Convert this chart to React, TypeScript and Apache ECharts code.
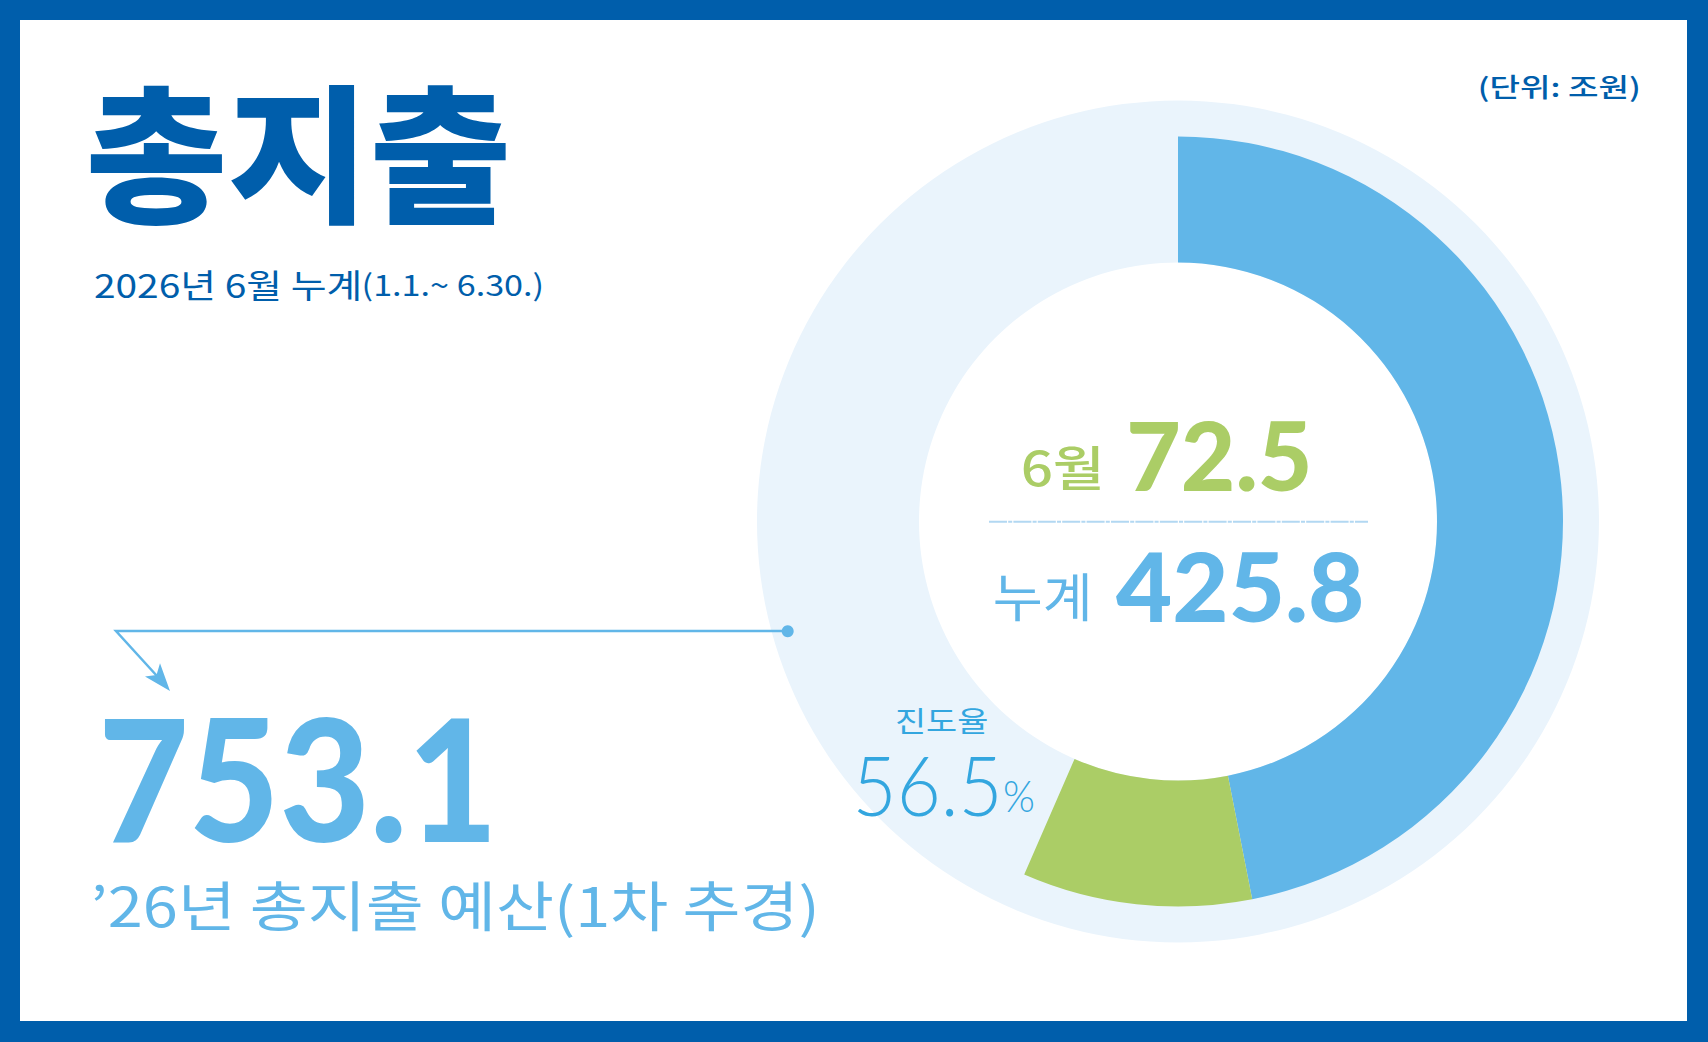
import React, { useEffect, useRef } from 'react';
import * as echarts from 'echarts';

// ---- data (조원) ----
const BUDGET = 753.1; // '26년 총지출 예산(1차 추경)
const CUMULATIVE = 425.8; // 누계 (1.1.~6.30.)
const JUNE = 72.5; // 6월
const PROGRESS_RATE = 56.5; // 진도율 (%)
const SEGMENT_NAMES = ['1~5월', '6월', '잔여'];
const SEGMENT_VALUES = [
  +(CUMULATIVE - JUNE).toFixed(1),
  JUNE,
  +(BUDGET - CUMULATIVE).toFixed(1),
];

// ---- texts ----
const TITLE = '총지출';
const PERIOD_MAIN = '2026년 6월 누계';
const PERIOD_RANGE = '(1.1.~ 6.30.)';
const UNIT = '(단위: 조원)';
const MONTH_LABEL = '6월';
const CUM_LABEL = '누계';
const RATE_LABEL = '진도율';
const BUDGET_LABEL = '’26년 총지출 예산(1차 추경)';

// ---- styles ----
const W = 1708;
const H = 1042;
const FRAME = '#005EAB';
const BLUE = '#61B6E8';
const GREEN = '#ABCD66';
const LIGHT = '#EAF4FC';
const RATE_BLUE = '#33A6DF';
const DASH = '#B2D8F2';
const SEGMENT_COLORS = [BLUE, GREEN, 'rgba(0,0,0,0)'];
const KR = "'Noto Sans CJK KR', sans-serif";
const NUM = 'Lato, sans-serif';
const CENTER = [1178, 521.5];

type Spec = {
  text: string;
  family: string;
  weight: number;
  size: number;
  color: string;
  box: [number, number, number, number];
};

let ctx: CanvasRenderingContext2D | null = null;
function fitText(s: Spec) {
  if (!ctx) ctx = document.createElement('canvas').getContext('2d');
  const font = `${s.weight} ${s.size}px ${s.family}`;
  ctx!.font = font;
  ctx!.textBaseline = 'alphabetic';
  ctx!.textAlign = 'left';
  const m = ctx!.measureText(s.text);
  const l = m.actualBoundingBoxLeft;
  const r = m.actualBoundingBoxRight;
  const a = m.actualBoundingBoxAscent;
  const d = m.actualBoundingBoxDescent;
  const fa = (m as any).fontBoundingBoxAscent ?? s.size * 0.8;
  const fd = (m as any).fontBoundingBoxDescent ?? s.size * 0.2;
  const c = (fa - fd) / 2; // central baseline above alphabetic baseline
  const [x0, y0, x1, y1] = s.box;
  const sx = (x1 - x0) / (l + r);
  const sy = (y1 - y0) / (a + d);
  return {
    type: 'text',
    z: 100,
    silent: true,
    x: x0 + l * sx,
    y: y0 + (a - c) * sy,
    scaleX: sx,
    scaleY: sy,
    style: {
      text: s.text,
      x: 0,
      y: 0,
      fill: s.color,
      fontSize: s.size,
      fontFamily: s.family,
      fontWeight: s.weight,
      align: 'left',
      verticalAlign: 'middle',
      textAlign: 'left',
      textVerticalAlign: 'middle',
    },
  };
}

export default function App() {
  const ref = useRef<HTMLDivElement>(null);
  useEffect(() => {
    if (!ref.current) return;
    const chart = echarts.init(ref.current, null, { renderer: 'svg' });

    const texts: Spec[] = [
      { text: TITLE, family: KR, weight: 900, size: 150, color: FRAME, box: [90.6, 85, 506.5, 226] },
      { text: PERIOD_MAIN, family: KR, weight: 400, size: 38, color: FRAME, box: [95, 269.5, 359.4, 301] },
      { text: PERIOD_RANGE, family: KR, weight: 400, size: 31, color: FRAME, box: [363.8, 271.7, 541.5, 301.7] },
      { text: UNIT, family: KR, weight: 500, size: 29, color: FRAME, box: [1480, 75, 1638.3, 103.3] },
      { text: MONTH_LABEL, family: KR, weight: 500, size: 48, color: GREEN, box: [1023, 445, 1100, 490] },
      { text: JUNE.toFixed(1), family: NUM, weight: 900, size: 99, color: GREEN, box: [1130, 421.7, 1308.3, 492.7] },
      { text: CUM_LABEL, family: KR, weight: 400, size: 50, color: BLUE, box: [995, 573.3, 1087.3, 622.7] },
      { text: CUMULATIVE.toFixed(1), family: NUM, weight: 900, size: 99, color: BLUE, box: [1116, 552.2, 1361, 624] },
      { text: RATE_LABEL, family: KR, weight: 400, size: 31, color: RATE_BLUE, box: [896, 708, 986.7, 735] },
      { text: PROGRESS_RATE.toFixed(1), family: NUM, weight: 300, size: 84, color: RATE_BLUE, box: [858, 756, 996.7, 816.7] },
      { text: '%', family: NUM, weight: 300, size: 42, color: RATE_BLUE, box: [1005, 781.7, 1033.3, 811.7] },
      { text: BUDGET.toFixed(1), family: NUM, weight: 900, size: 174, color: BLUE, box: [104.5, 717.3, 489, 842.7] },
      { text: BUDGET_LABEL, family: KR, weight: 400, size: 60, color: BLUE, box: [94.4, 881.5, 814.4, 938.3] },
    ];

    const graphics: any[] = [
      // frame
      { type: 'rect', z: 100, silent: true, shape: { x: 0, y: 0, width: W, height: 20 }, style: { fill: FRAME } },
      { type: 'rect', z: 100, silent: true, shape: { x: 0, y: 1021, width: W, height: 21 }, style: { fill: FRAME } },
      { type: 'rect', z: 100, silent: true, shape: { x: 0, y: 0, width: 20, height: H }, style: { fill: FRAME } },
      { type: 'rect', z: 100, silent: true, shape: { x: 1687, y: 0, width: 21, height: H }, style: { fill: FRAME } },
      // dashed separator in the donut hole
      {
        type: 'line', z: 100, silent: true,
        shape: { x1: 989, y1: 521.7, x2: 1368, y2: 521.7 },
        style: { stroke: DASH, lineWidth: 2, lineDash: [18, 1.2, 4, 1.2] },
      },
      // pointer from donut to budget figure
      {
        type: 'polyline', z: 100, silent: true,
        shape: { points: [[787.7, 631], [116, 631], [157, 676]] },
        style: { stroke: BLUE, lineWidth: 2.5, fill: null, lineJoin: 'miter' },
      },
      {
        type: 'polygon', z: 100, silent: true,
        shape: { points: [[170, 691], [145, 676.5], [156.5, 675], [160, 663.3]] },
        style: { fill: BLUE },
      },
      { type: 'circle', z: 100, silent: true, shape: { cx: 787.7, cy: 631.2, r: 6 }, style: { fill: BLUE } },
      ...texts.map(fitText),
    ];

    chart.setOption({
      animation: false,
      backgroundColor: '#ffffff',
      series: [
        {
          type: 'pie',
          silent: true,
          center: CENTER,
          radius: [259, 421],
          startAngle: 90,
          label: { show: false },
          labelLine: { show: false },
          itemStyle: { borderWidth: 0 },
          emphasis: { disabled: true },
          data: [{ name: 'bg', value: BUDGET, itemStyle: { color: LIGHT } }],
          z: 1,
        },
        {
          type: 'pie',
          silent: true,
          center: CENTER,
          radius: [259, 385],
          startAngle: 90,
          clockwise: true,
          label: { show: false },
          labelLine: { show: false },
          itemStyle: { borderWidth: 0 },
          emphasis: { disabled: true },
          data: SEGMENT_NAMES.map((n, i) => ({
            name: n,
            value: SEGMENT_VALUES[i],
            itemStyle: { color: SEGMENT_COLORS[i] },
          })),
          z: 2,
        },
      ],
      graphic: { elements: graphics },
    });
    return () => chart.dispose();
  }, []);
  return (
    <div
      ref={ref}
      style={{ position: 'fixed', left: 0, top: 0, width: W, height: H, background: '#fff' }}
    />
  );
}
